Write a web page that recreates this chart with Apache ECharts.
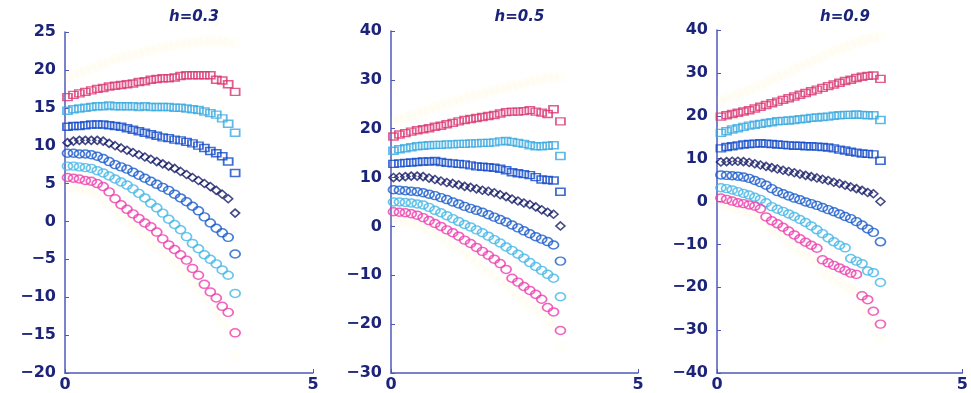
<!DOCTYPE html>
<html>
<head>
<meta charset="utf-8">
<script src="https://cdn.jsdelivr.net/npm/echarts@6/dist/echarts.min.js"></script>
<style>
  html, body { margin: 0; padding: 0; background: #fff; }
  #chart { width: 971px; height: 393px; }
</style>
</head>
<body>
<div id="chart"></div>
<script>
// panel titles
const titles = ['h=0.3', 'h=0.5', 'h=0.9']

// x positions of the markers (panels 1 and 2 share one, panel 3 is a bit shorter)
const xs12 = [0.05, 0.17, 0.29, 0.41, 0.53, 0.65, 0.77, 0.89, 1.01, 1.13, 1.25, 1.37, 1.49, 1.61, 1.73,
  1.85, 1.97, 2.09, 2.21, 2.33, 2.45, 2.57, 2.69, 2.81, 2.93, 3.05, 3.17, 3.29, 3.43]
const xs3 = [0.08, 0.195, 0.31, 0.425, 0.54, 0.655, 0.77, 0.885, 1.0, 1.115, 1.23, 1.345, 1.46, 1.575, 1.69,
  1.805, 1.92, 2.035, 2.15, 2.265, 2.38, 2.495, 2.61, 2.725, 2.84, 2.955, 3.07, 3.185, 3.33]

// y axis ranges per panel
const yMin = [-20, -30, -40]
const yMax = [25, 40, 40]
const yStep = [5, 10, 10]

// ---- h=0.3 ----
const p1MagSq = [16.4, 16.7, 16.9, 17.1, 17.3, 17.5, 17.6, 17.8, 17.9, 18.0, 18.1, 18.2, 18.4, 18.5, 18.7, 18.8, 18.9, 18.9, 19.0, 19.2, 19.3, 19.3, 19.3, 19.3, 19.3, 18.7, 18.6, 18.1, 17.1]
const p1CyanSq = [14.6, 14.8, 14.9, 15.0, 15.1, 15.2, 15.2, 15.3, 15.2, 15.2, 15.2, 15.2, 15.1, 15.2, 15.1, 15.1, 15.1, 15.1, 15.0, 15.0, 14.9, 14.8, 14.7, 14.5, 14.3, 14.1, 13.6, 12.9, 11.7]
const p1BlueSq = [12.5, 12.6, 12.6, 12.7, 12.8, 12.8, 12.8, 12.7, 12.6, 12.5, 12.3, 12.1, 11.9, 11.7, 11.5, 11.3, 11.1, 11.0, 10.8, 10.7, 10.5, 10.3, 10.0, 9.7, 9.3, 9.0, 8.6, 7.9, 6.4]
const p1NavyDia = [10.4, 10.6, 10.7, 10.7, 10.7, 10.7, 10.6, 10.3, 10.0, 9.7, 9.4, 9.1, 8.8, 8.5, 8.2, 7.9, 7.6, 7.3, 7.0, 6.6, 6.2, 5.8, 5.4, 5.0, 4.6, 4.1, 3.6, 3.0, 1.1]
const p1BlueCi = [9.0, 9.0, 8.9, 8.9, 8.8, 8.6, 8.3, 7.9, 7.5, 7.2, 6.9, 6.5, 6.1, 5.7, 5.3, 4.9, 4.5, 4.1, 3.6, 3.1, 2.6, 2.0, 1.4, 0.6, -0.2, -0.9, -1.5, -2.1, -4.3]
const p1CyanCi = [7.3, 7.3, 7.2, 7.1, 7.0, 6.7, 6.4, 6.0, 5.6, 5.2, 4.8, 4.3, 3.7, 3.1, 2.4, 1.8, 1.1, 0.3, -0.4, -1.1, -2.0, -2.9, -3.6, -4.4, -5.0, -5.6, -6.4, -7.1, -9.5]
const p1MagCi = [5.8, 5.7, 5.6, 5.4, 5.3, 5.0, 4.6, 3.9, 3.0, 2.2, 1.6, 1.0, 0.4, -0.2, -0.7, -1.4, -2.3, -3.1, -3.7, -4.4, -5.1, -6.2, -7.1, -8.3, -9.3, -10.1, -11.2, -12.0, -14.7]
const p1YelTop = [19.0, 19.3, 19.6, 19.9, 20.2, 20.5, 20.8, 21.1, 21.4, 21.6, 21.8, 22.0, 22.2, 22.4, 22.6, 22.8, 23.0, 23.1, 23.3, 23.4, 23.5, 23.6, 23.7, 23.8, 23.8, 23.8, 23.7, 23.6, 23.4]
const p1YelBot = [4.6, 4.5, 4.3, 4.1, 3.9, 3.5, 3.0, 2.3, 1.5, 0.7, 0.0, -0.6, -1.3, -2.0, -2.6, -3.3, -4.1, -4.9, -5.6, -6.4, -7.2, -8.1, -9.0, -10.0, -11.0, -12.0, -13.1, -14.2, -17.8]

// ---- h=0.5 ----
const p2MagSq = [18.4, 18.8, 19.1, 19.4, 19.7, 19.9, 20.1, 20.4, 20.6, 20.9, 21.2, 21.5, 21.8, 22.0, 22.2, 22.4, 22.6, 22.8, 23.1, 23.4, 23.5, 23.5, 23.6, 23.8, 23.5, 23.3, 23.0, 24.0, 21.5]
const p2CyanSq = [15.5, 15.8, 16.0, 16.2, 16.4, 16.5, 16.6, 16.7, 16.7, 16.8, 16.8, 16.9, 16.9, 17.0, 17.0, 17.1, 17.1, 17.2, 17.4, 17.5, 17.3, 17.1, 16.9, 16.6, 16.4, 16.4, 16.5, 16.6, 14.4]
const p2BlueSq = [12.8, 12.9, 13.0, 13.1, 13.2, 13.3, 13.3, 13.4, 13.2, 13.0, 12.9, 12.8, 12.7, 12.5, 12.3, 12.2, 12.1, 12.0, 11.8, 11.5, 11.1, 10.9, 10.7, 10.5, 10.1, 9.6, 9.5, 9.4, 7.1]
const p2NavyDia = [10.0, 10.1, 10.2, 10.3, 10.3, 10.2, 9.9, 9.6, 9.3, 9.0, 8.8, 8.5, 8.2, 8.0, 7.7, 7.4, 7.2, 6.9, 6.5, 6.1, 5.6, 5.2, 4.8, 4.5, 4.0, 3.4, 2.9, 2.5, 0.1]
const p2BlueCi = [7.5, 7.4, 7.3, 7.2, 7.1, 6.9, 6.6, 6.3, 5.9, 5.5, 5.0, 4.6, 4.1, 3.7, 3.3, 2.9, 2.4, 1.9, 1.4, 0.9, 0.3, -0.3, -0.9, -1.5, -2.1, -2.6, -3.1, -3.8, -7.1]
const p2CyanCi = [5.0, 5.0, 4.9, 4.8, 4.6, 4.4, 3.9, 3.3, 2.8, 2.2, 1.6, 1.0, 0.4, -0.1, -0.7, -1.3, -2.0, -2.7, -3.4, -4.2, -4.9, -5.7, -6.5, -7.4, -8.2, -9.0, -9.8, -10.6, -14.4]
const p2MagCi = [3.0, 2.9, 2.8, 2.6, 2.3, 1.8, 1.2, 0.6, 0.0, -0.7, -1.3, -2.0, -2.8, -3.5, -4.3, -5.1, -5.9, -6.7, -7.6, -8.8, -10.6, -11.4, -12.3, -13.1, -13.9, -14.9, -16.6, -17.5, -21.3]
const p2YelTop = [21.5, 21.9, 22.3, 22.7, 23.1, 23.5, 23.9, 24.3, 24.7, 25.1, 25.5, 25.9, 26.3, 26.6, 26.9, 27.2, 27.5, 27.8, 28.1, 28.4, 28.7, 29.0, 29.3, 29.6, 29.9, 30.2, 30.4, 30.6, 30.5]
const p2YelBot = [1.6, 1.4, 1.1, 0.8, 0.4, -0.2, -0.9, -1.6, -2.3, -3.1, -3.9, -4.7, -5.6, -6.5, -7.4, -8.3, -9.2, -10.1, -11.0, -12.0, -13.2, -14.2, -15.2, -16.1, -17.0, -18.1, -19.5, -20.6, -24.5]

// ---- h=0.9 ----
const p3MagSq = [19.8, 20.1, 20.4, 20.7, 21.0, 21.3, 21.7, 22.1, 22.5, 22.9, 23.3, 23.7, 24.1, 24.5, 24.9, 25.3, 25.7, 26.1, 26.5, 26.9, 27.3, 27.7, 28.1, 28.4, 28.8, 29.1, 29.3, 29.4, 28.6]
const p3CyanSq = [16.0, 16.4, 16.8, 17.1, 17.4, 17.7, 17.9, 18.1, 18.3, 18.5, 18.7, 18.8, 18.9, 19.0, 19.2, 19.3, 19.5, 19.6, 19.7, 19.8, 20.0, 20.1, 20.2, 20.2, 20.3, 20.2, 20.1, 20.1, 19.0]
const p3BlueSq = [12.4, 12.7, 12.9, 13.1, 13.3, 13.4, 13.5, 13.6, 13.5, 13.4, 13.3, 13.2, 13.1, 13.0, 13.0, 12.9, 12.9, 12.8, 12.7, 12.6, 12.4, 12.1, 11.9, 11.6, 11.4, 11.2, 11.1, 11.0, 9.5]
const p3NavyDia = [9.2, 9.3, 9.4, 9.4, 9.3, 9.1, 8.8, 8.5, 8.2, 7.9, 7.6, 7.3, 7.0, 6.7, 6.4, 6.1, 5.8, 5.5, 5.2, 4.9, 4.5, 4.2, 3.8, 3.4, 3.0, 2.6, 2.1, 1.8, 0.0]
const p3BlueCi = [6.2, 6.1, 6.0, 5.9, 5.7, 5.4, 4.9, 4.4, 3.8, 3.0, 2.3, 1.8, 1.3, 0.8, 0.4, -0.1, -0.5, -0.9, -1.4, -1.9, -2.4, -2.9, -3.5, -4.0, -4.7, -5.5, -6.4, -7.2, -9.4]
const p3CyanCi = [3.2, 3.0, 2.7, 2.3, 1.9, 1.5, 1.0, 0.5, -0.3, -1.2, -1.8, -2.3, -2.9, -3.5, -4.2, -4.9, -5.7, -6.6, -7.5, -8.5, -9.4, -10.2, -10.8, -13.3, -13.9, -14.5, -16.2, -16.6, -18.9]
const p3MagCi = [0.8, 0.5, 0.1, -0.3, -0.5, -0.8, -1.1, -1.7, -3.6, -4.5, -5.2, -6.0, -6.9, -7.8, -8.7, -9.5, -10.2, -10.9, -13.6, -14.3, -14.9, -15.5, -16.1, -16.7, -17.0, -22.0, -22.9, -25.6, -28.6]
const p3YelTop = [23.5, 24.0, 24.5, 25.0, 25.5, 26.0, 26.6, 27.2, 27.8, 28.4, 29.0, 29.6, 30.2, 30.8, 31.4, 32.0, 32.6, 33.2, 33.8, 34.4, 35.0, 35.5, 36.0, 36.5, 37.0, 37.5, 37.9, 38.3, 38.5]
const p3YelBot = [-0.5, -0.9, -1.3, -1.8, -2.2, -2.6, -3.1, -4.0, -5.8, -6.8, -7.7, -8.6, -9.6, -10.6, -11.6, -12.5, -13.3, -14.1, -16.5, -17.3, -18.1, -18.9, -19.7, -20.4, -21.0, -25.0, -26.2, -28.8, -31.5]

const panels = [
  { xs: xs12, sets: [p1YelTop, p1YelBot, p1MagSq, p1CyanSq, p1BlueSq, p1NavyDia, p1BlueCi, p1CyanCi, p1MagCi] },
  { xs: xs12, sets: [p2YelTop, p2YelBot, p2MagSq, p2CyanSq, p2BlueSq, p2NavyDia, p2BlueCi, p2CyanCi, p2MagCi] },
  { xs: xs3, sets: [p3YelTop, p3YelBot, p3MagSq, p3CyanSq, p3BlueSq, p3NavyDia, p3BlueCi, p3CyanCi, p3MagCi] }
]

// marker look, same order as sets above
const styles = [
  { symbol: 'circle', size: 12, fill: 'rgba(246,238,150,0.07)', stroke: null },
  { symbol: 'circle', size: 12, fill: 'rgba(246,238,150,0.07)', stroke: null },
  { symbol: 'rect', size: [9, 7], stroke: '#d83470' },
  { symbol: 'rect', size: [9, 7], stroke: '#3aa9e0' },
  { symbol: 'rect', size: [9, 7], stroke: '#1048c8' },
  { symbol: 'diamond', size: [9, 8], stroke: '#161d68' },
  { symbol: 'circle', size: [10, 8], stroke: '#1a5ccc' },
  { symbol: 'circle', size: [10, 8], stroke: '#45b6e6' },
  { symbol: 'circle', size: [10, 8], stroke: '#ee3fae' }
]

const gridPos = [
  { left: 65, top: 32, width: 248, height: 343 },
  { left: 391, top: 31, width: 247, height: 344 },
  { left: 717, top: 30, width: 246, height: 343 }
]

const axisColor = '#4d58b8'
const labelColor = '#1b2479'
const labelFont = { color: labelColor, fontSize: 16, fontWeight: 'bold', fontFamily: 'DejaVu Sans' }
const minus = v => String(v).replace('-', '\u2212')

const series = []
panels.forEach((p, g) => {
  p.sets.forEach((ys, k) => {
    const st = styles[k]
    series.push({
      type: 'scatter',
      xAxisIndex: g,
      yAxisIndex: g,
      symbol: st.symbol,
      symbolSize: st.size,
      data: ys.map((y, i) => [p.xs[i], y]),
      itemStyle: st.stroke
        ? { color: 'rgba(255,255,255,0)', borderColor: st.stroke, borderWidth: 1.6 }
        : { color: st.fill, borderWidth: 0 },
      emphasis: { disabled: true },
      silent: true
    })
  })
})

const chart = echarts.init(document.getElementById('chart'), null, { renderer: 'canvas' })
chart.setOption({
  animation: false,
  backgroundColor: '#fff',
  title: titles.map((t, g) => ({
    text: t,
    left: gridPos[g].left + gridPos[g].width / 2,
    top: 5,
    textAlign: 'center',
    textStyle: { color: labelColor, fontSize: 15, fontStyle: 'italic', fontWeight: 'bold', fontFamily: 'DejaVu Sans' }
  })),
  grid: gridPos,
  xAxis: gridPos.map((_, g) => ({
    type: 'value',
    gridIndex: g,
    min: 0,
    max: 5,
    interval: 5,
    axisLine: { show: true, onZero: false, lineStyle: { color: axisColor, width: 1.5 } },
    axisTick: { show: true, inside: true, length: 4, lineStyle: { color: axisColor } },
    axisLabel: { ...labelFont, margin: 4 },
    splitLine: { show: false }
  })),
  yAxis: gridPos.map((_, g) => ({
    type: 'value',
    gridIndex: g,
    min: yMin[g],
    max: yMax[g],
    interval: yStep[g],
    axisLine: { show: true, onZero: false, lineStyle: { color: axisColor, width: 1.5 } },
    axisTick: { show: true, inside: true, length: 4, lineStyle: { color: axisColor } },
    axisLabel: { ...labelFont, margin: 9, formatter: minus },
    splitLine: { show: false }
  })),
  series
})
</script>
</body>
</html>
